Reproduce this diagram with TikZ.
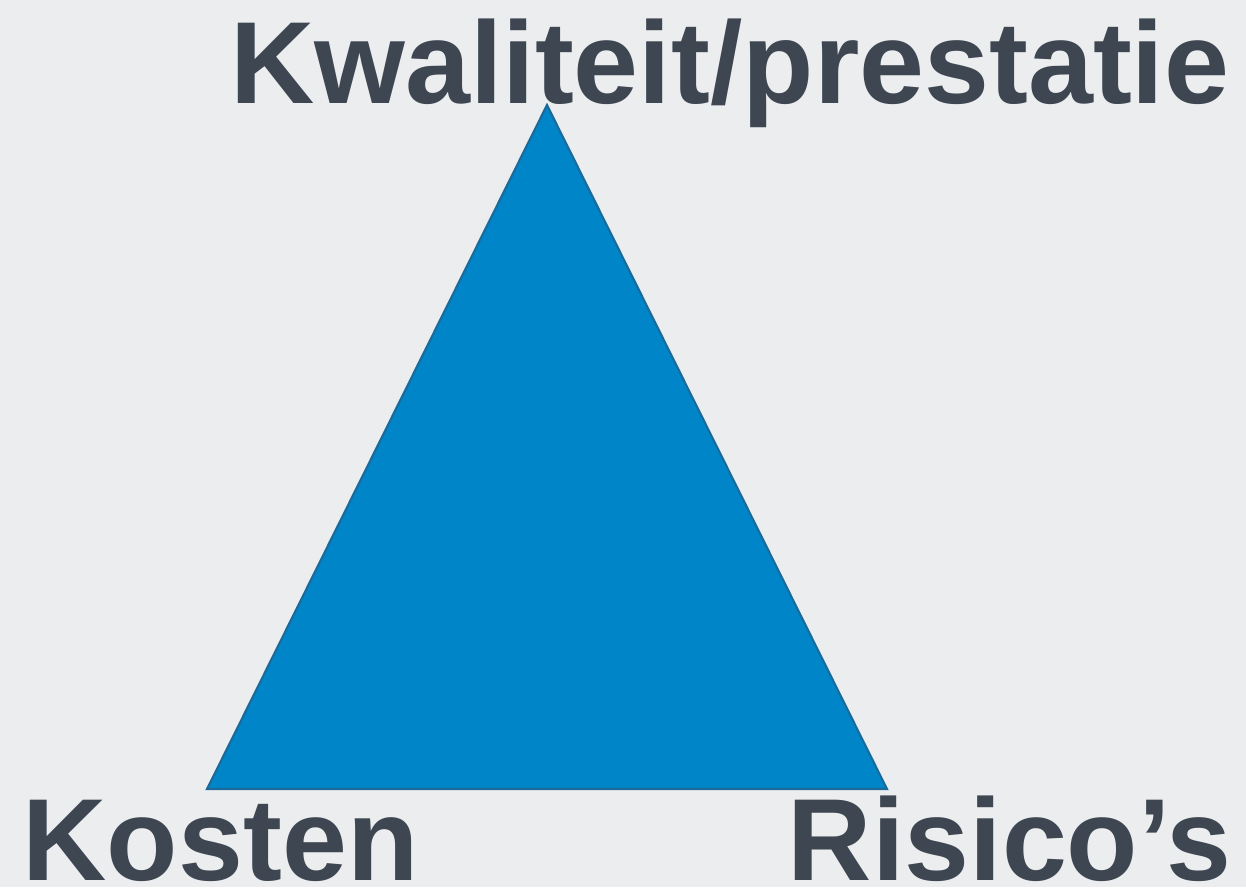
\documentclass[tikz,border=0pt]{standalone}
\usepackage{fontspec}
\setmainfont{Liberation Sans}
\definecolor{bg}{HTML}{ECEDEF}
\definecolor{tri}{HTML}{0085C9}
\definecolor{triedge}{HTML}{1A6A9A}
\definecolor{txt}{HTML}{3D4651}
\tikzset{
  lbl/.style={inner sep=0pt, text=txt, font=\fontsize{33.2}{34}\selectfont\bfseries},
  trishape/.style={fill=tri, draw=triedge, line width=0.6pt, line join=miter}
}
\begin{document}
\begin{tikzpicture}[x=0.01cm,y=-0.01cm]
\fill[bg] (0,0) rectangle (1246,887);
\useasboundingbox (0,0) rectangle (1246,887);
\coordinate (top) at (547,105);
\coordinate (bl) at (207,789);
\coordinate (br) at (887,789);
\draw[trishape] (top) -- (bl) -- (br) -- cycle;
\node[lbl, anchor=base east] (kw) at (1230,103) {Kwaliteit/prestatie};
\node[lbl, anchor=base west] (ko) at (22,880) {Kosten};
\node[lbl, anchor=base east] (ri) at (1232,880) {Risico’s};
\end{tikzpicture}
\end{document}
